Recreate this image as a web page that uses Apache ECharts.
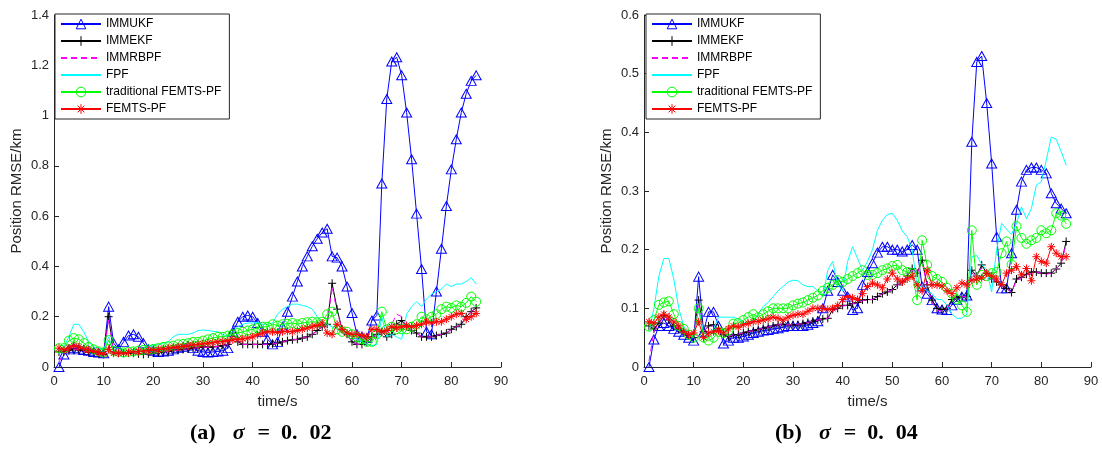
<!DOCTYPE html>
<html><head><meta charset="utf-8">
<script src="https://cdn.jsdelivr.net/npm/echarts@6/dist/echarts.min.js"></script>
<style>html,body{margin:0;padding:0;background:#fff}#c{width:1102px;height:450px}</style>
</head><body><div id="c"></div>
<script>
const seriesNames = ['IMMUKF','IMMEKF','IMMRBPF','FPF','traditional FEMTS-PF','FEMTS-PF'];
const timeSteps = [1,2,3,4,5,6,7,8,9,10,11,12,13,14,15,16,17,18,19,20,21,22,23,24,25,26,27,28,29,30,31,32,33,34,35,36,37,38,39,40,41,42,43,44,45,46,47,48,49,50,51,52,53,54,55,56,57,58,59,60,61,62,63,64,65,66,67,68,69,70,71,72,73,74,75,76,77,78,79,80,81,82,83,84,85];
const xTicks = {min:0, max:90, interval:10};
const yTicksA = {min:0, max:1.4, interval:0.2};
const yTicksB = {min:0, max:0.6, interval:0.1};
const captionA = ['(a)', 'σ', '=', '0.', '02'];
const captionB = ['(b)', 'σ', '=', '0.', '04'];

// ---- sigma = 0.02 ----
const ukfA = [0,0.05,0.07,0.075,0.07,0.068,0.065,0.06,0.058,0.055,0.24,0.095,0.07,0.1,0.125,0.13,0.12,0.095,0.07,0.065,0.06,0.062,0.065,0.07,0.075,0.08,0.085,0.075,0.065,0.06,0.058,0.06,0.062,0.065,0.075,0.14,0.18,0.2,0.205,0.2,0.175,0.14,0.11,0.09,0.1,0.16,0.22,0.28,0.34,0.4,0.44,0.48,0.51,0.535,0.55,0.44,0.435,0.4,0.32,0.215,0.13,0.12,0.115,0.185,0.205,0.73,1.066,1.215,1.232,1.16,1.012,0.826,0.61,0.39,0.14,0.13,0.3,0.47,0.64,0.786,0.906,1.012,1.087,1.138,1.16];
const ekfA = [0.06,0.06,0.065,0.07,0.068,0.065,0.06,0.058,0.055,0.05,0.2,0.06,0.055,0.055,0.055,0.055,0.052,0.05,0.052,0.055,0.058,0.06,0.062,0.065,0.068,0.07,0.072,0.075,0.078,0.08,0.078,0.08,0.082,0.085,0.09,0.135,0.1,0.09,0.09,0.09,0.09,0.09,0.09,0.092,0.095,0.1,0.105,0.108,0.11,0.115,0.12,0.13,0.145,0.16,0.17,0.333,0.23,0.15,0.13,0.1,0.09,0.09,0.1,0.12,0.13,0.14,0.12,0.13,0.17,0.185,0.16,0.145,0.135,0.12,0.12,0.12,0.125,0.13,0.135,0.15,0.16,0.17,0.2,0.22,0.235];
const rbpfA = [0.02,0.055,0.065,0.07,0.068,0.064,0.06,0.057,0.054,0.05,0.19,0.06,0.055,0.056,0.055,0.054,0.052,0.05,0.053,0.055,0.058,0.06,0.062,0.064,0.067,0.07,0.072,0.074,0.077,0.079,0.078,0.08,0.082,0.085,0.09,0.13,0.1,0.09,0.09,0.09,0.09,0.09,0.09,0.092,0.095,0.1,0.105,0.108,0.11,0.115,0.12,0.13,0.145,0.16,0.17,0.32,0.22,0.15,0.13,0.1,0.09,0.09,0.1,0.12,0.13,0.14,0.13,0.17,0.21,0.2,0.16,0.145,0.135,0.12,0.12,0.12,0.125,0.13,0.135,0.15,0.16,0.17,0.2,0.22,0.235];
const fpfA = [0.06,0.08,0.12,0.17,0.17,0.14,0.1,0.08,0.075,0.07,0.12,0.06,0.06,0.065,0.065,0.07,0.07,0.075,0.08,0.085,0.09,0.095,0.1,0.12,0.13,0.13,0.13,0.135,0.145,0.147,0.145,0.142,0.14,0.13,0.12,0.14,0.16,0.17,0.175,0.175,0.178,0.17,0.17,0.175,0.21,0.23,0.24,0.25,0.25,0.245,0.24,0.23,0.2,0.18,0.17,0.16,0.15,0.14,0.13,0.12,0.11,0.1,0.09,0.085,0.09,0.2,0.12,0.13,0.12,0.11,0.21,0.24,0.26,0.24,0.27,0.29,0.3,0.31,0.33,0.32,0.33,0.33,0.34,0.355,0.33];
const tradA = [0.075,0.075,0.105,0.115,0.11,0.095,0.08,0.07,0.062,0.058,0.107,0.065,0.06,0.058,0.06,0.062,0.065,0.068,0.07,0.072,0.075,0.08,0.082,0.085,0.09,0.092,0.095,0.1,0.1,0.105,0.11,0.115,0.12,0.12,0.125,0.13,0.135,0.14,0.145,0.15,0.155,0.16,0.16,0.17,0.165,0.17,0.172,0.175,0.17,0.175,0.178,0.18,0.178,0.18,0.21,0.22,0.15,0.14,0.14,0.13,0.12,0.11,0.1,0.1,0.13,0.22,0.15,0.16,0.15,0.15,0.15,0.16,0.17,0.2,0.19,0.2,0.21,0.23,0.24,0.235,0.245,0.24,0.255,0.28,0.26];
const femA = [0.075,0.068,0.075,0.085,0.08,0.072,0.068,0.062,0.058,0.052,0.07,0.055,0.055,0.055,0.058,0.06,0.062,0.063,0.066,0.068,0.07,0.072,0.075,0.078,0.08,0.082,0.085,0.088,0.09,0.092,0.095,0.097,0.1,0.102,0.105,0.108,0.11,0.112,0.115,0.12,0.128,0.135,0.14,0.14,0.138,0.14,0.142,0.14,0.145,0.15,0.155,0.16,0.165,0.175,0.135,0.13,0.17,0.15,0.135,0.13,0.13,0.125,0.12,0.15,0.15,0.14,0.145,0.16,0.155,0.16,0.165,0.16,0.165,0.17,0.18,0.175,0.18,0.18,0.19,0.2,0.21,0.213,0.19,0.2,0.213];

// ---- sigma = 0.04 ----
const ukfB = [0,0.047,0.07,0.075,0.07,0.065,0.06,0.055,0.05,0.045,0.154,0.06,0.094,0.094,0.07,0.04,0.045,0.05,0.05,0.052,0.055,0.058,0.06,0.062,0.063,0.065,0.066,0.068,0.07,0.07,0.07,0.07,0.072,0.075,0.078,0.1,0.13,0.157,0.145,0.13,0.12,0.097,0.1,0.14,0.162,0.177,0.195,0.205,0.205,0.2,0.2,0.197,0.2,0.208,0.2,0.137,0.125,0.114,0.1,0.098,0.097,0.105,0.114,0.12,0.122,0.384,0.52,0.53,0.45,0.347,0.222,0.134,0.134,0.194,0.268,0.316,0.336,0.34,0.34,0.336,0.33,0.296,0.279,0.27,0.262];
const ekfB = [0.07,0.065,0.075,0.088,0.08,0.07,0.065,0.06,0.055,0.05,0.114,0.06,0.07,0.072,0.065,0.055,0.052,0.055,0.055,0.058,0.06,0.062,0.064,0.066,0.068,0.07,0.072,0.073,0.072,0.072,0.072,0.074,0.076,0.078,0.08,0.082,0.083,0.098,0.1,0.105,0.105,0.108,0.11,0.114,0.115,0.115,0.12,0.125,0.128,0.132,0.14,0.145,0.155,0.168,0.16,0.182,0.14,0.114,0.1,0.098,0.1,0.115,0.118,0.12,0.12,0.165,0.155,0.174,0.16,0.15,0.145,0.14,0.134,0.127,0.15,0.153,0.158,0.162,0.162,0.16,0.16,0.16,0.167,0.177,0.214];
const rbpfB = [0.01,0.06,0.075,0.085,0.08,0.07,0.065,0.06,0.055,0.05,0.11,0.06,0.07,0.07,0.065,0.055,0.052,0.055,0.056,0.058,0.06,0.062,0.064,0.066,0.068,0.07,0.072,0.072,0.072,0.072,0.073,0.074,0.076,0.078,0.08,0.082,0.083,0.095,0.1,0.104,0.105,0.108,0.11,0.113,0.115,0.115,0.12,0.125,0.128,0.132,0.14,0.145,0.155,0.165,0.16,0.178,0.14,0.11,0.097,0.095,0.1,0.113,0.118,0.12,0.12,0.16,0.155,0.17,0.16,0.15,0.145,0.14,0.134,0.127,0.148,0.152,0.157,0.16,0.162,0.16,0.158,0.16,0.167,0.177,0.21];
const fpfB = [0.06,0.1,0.155,0.185,0.185,0.15,0.1,0.07,0.055,0.05,0.1,0.06,0.05,0.065,0.085,0.085,0.085,0.085,0.082,0.075,0.075,0.08,0.09,0.103,0.11,0.12,0.13,0.137,0.145,0.148,0.147,0.14,0.137,0.137,0.13,0.12,0.165,0.18,0.14,0.13,0.18,0.205,0.185,0.165,0.18,0.2,0.233,0.25,0.26,0.262,0.25,0.232,0.222,0.2,0.137,0.137,0.13,0.125,0.115,0.115,0.105,0.09,0.083,0.083,0.09,0.188,0.19,0.175,0.165,0.128,0.2,0.245,0.235,0.226,0.245,0.273,0.253,0.27,0.31,0.316,0.353,0.392,0.388,0.367,0.344];
const tradB = [0.069,0.08,0.106,0.11,0.112,0.09,0.07,0.065,0.055,0.05,0.1,0.05,0.045,0.05,0.06,0.058,0.062,0.074,0.075,0.08,0.085,0.09,0.085,0.09,0.095,0.1,0.1,0.1,0.1,0.105,0.108,0.11,0.114,0.118,0.122,0.13,0.135,0.14,0.148,0.145,0.15,0.155,0.16,0.165,0.157,0.157,0.16,0.165,0.168,0.172,0.174,0.165,0.162,0.16,0.114,0.216,0.174,0.155,0.15,0.145,0.135,0.125,0.115,0.105,0.094,0.233,0.14,0.157,0.155,0.16,0.162,0.194,0.214,0.175,0.24,0.22,0.21,0.216,0.22,0.233,0.228,0.233,0.262,0.258,0.244];
const femB = [0.077,0.075,0.085,0.09,0.085,0.077,0.07,0.06,0.055,0.058,0.077,0.05,0.058,0.06,0.062,0.058,0.065,0.07,0.068,0.072,0.074,0.077,0.078,0.08,0.082,0.085,0.083,0.08,0.085,0.088,0.09,0.09,0.095,0.1,0.1,0.1,0.098,0.1,0.105,0.115,0.12,0.118,0.115,0.125,0.137,0.143,0.14,0.135,0.15,0.16,0.15,0.145,0.15,0.155,0.14,0.13,0.165,0.14,0.14,0.138,0.13,0.125,0.135,0.143,0.14,0.148,0.15,0.152,0.16,0.155,0.15,0.14,0.16,0.165,0.171,0.157,0.168,0.147,0.188,0.18,0.177,0.205,0.194,0.188,0.188];

const valuesA = [ukfA, ekfA, rbpfA, fpfA, tradA, femA];
const valuesB = [ukfB, ekfB, rbpfB, fpfB, tradB, femB];

const TXT = '#262626';
const FONT = '"Liberation Sans", Arial, sans-serif';
const SERIF = '"Liberation Serif", "DejaVu Serif", serif';
const plusPath = 'path://M0,5L10,5M5,0L5,10';
const starPath = 'path://M0,5L10,5M5,0L5,10M1.5,1.5L8.5,8.5M1.5,8.5L8.5,1.5';
const styles = [
  {c:'#0000ff', sym:'triangle', size:[10,9]},
  {c:'#000000', sym:plusPath, size:8},
  {c:'#ff00ff', sym:'none', dash:[6,4]},
  {c:'#00ffff', sym:'none'},
  {c:'#00ff00', sym:'circle', size:9},
  {c:'#ff0000', sym:starPath, size:8}
];

function mkSeries(vals, gi) {
  return vals.map((arr, i) => {
    const s = styles[i];
    return {
      name: seriesNames[i], type: 'line', xAxisIndex: gi, yAxisIndex: gi,
      data: arr.map((v, k) => [timeSteps[k], v]),
      symbol: s.sym, symbolSize: s.size || 0, showSymbol: s.sym !== 'none',
      lineStyle: {color: s.c, width: 1, type: s.dash ? s.dash : 'solid'},
      itemStyle: {color: 'rgba(0,0,0,0)', borderColor: s.c, borderWidth: 1},
      emphasis: {disabled: true}, silent: true, z: 2 + i
    };
  });
}
function mkX(gi) {
  return {type:'value', gridIndex: gi, min:xTicks.min, max:xTicks.max, interval:xTicks.interval,
    name:'time/s', nameLocation:'middle', nameGap:27,
    nameTextStyle:{color:TXT, fontSize:15, fontFamily:FONT},
    axisLine:{lineStyle:{color:TXT, width:1}},
    axisTick:{inside:true, length:5, lineStyle:{color:TXT}},
    axisLabel:{color:TXT, fontSize:13, fontFamily:FONT, margin:8},
    splitLine:{show:false}};
}
function mkY(gi, t) {
  return {type:'value', gridIndex: gi, min:t.min, max:t.max, interval:t.interval,
    name:'Position RMSE/km', nameLocation:'middle', nameGap:30, nameRotate:90,
    nameTextStyle:{color:TXT, fontSize:15, fontFamily:FONT},
    axisLine:{show:true, lineStyle:{color:TXT, width:1}},
    axisTick:{show:true, inside:true, length:5, lineStyle:{color:TXT}},
    axisLabel:{color:TXT, fontSize:13, fontFamily:FONT, margin:5},
    splitLine:{show:false}};
}
function mkLegend(left) {
  return {data: seriesNames.map((n, i) => styles[i].sym === 'none'
              ? {name: n, itemStyle: {opacity: 0}}
              : {name: n, itemStyle: {color: 'rgba(0,0,0,0)', borderColor: styles[i].c, borderWidth: 1}}),
    orient:'vertical', left:left, top:14,
    itemWidth:40, itemHeight:12, itemGap:5, padding:[4,8,4,5],
    borderColor:TXT, borderWidth:1, backgroundColor:'#fff', borderRadius:0,
    selectedMode:false,
    textStyle:{color:'#000', fontSize:12, fontFamily:FONT}};
}
function mkCaption(p, x0) {
  const base = {fontFamily:SERIF, fontWeight:'bold', fontSize:22, fill:'#000'};
  return {type:'text', x: x0, y: 433, z:10,
    style:{text:'{a|' + p[0] + '}{s|' + p[1] + '}{e|' + p[2] + '}{n|' + p[3] + '}{m|' + p[4] + '}',
      verticalAlign:'middle', align:'left',
      rich:{a: Object.assign({}, base),
            s: Object.assign({}, base, {fontStyle:'italic', padding:[0,0,0,17]}),
            e: Object.assign({}, base, {padding:[0,0,0,13]}),
            n: Object.assign({}, base, {padding:[0,0,0,11]}),
            m: Object.assign({}, base, {padding:[0,0,0,12]})}}};
}

const chart = echarts.init(document.getElementById('c'), null, {renderer:'canvas'});
chart.setOption({
  animation:false, backgroundColor:'#fff',
  grid:[{left:54, right:601, top:15, bottom:83}, {left:644, right:11, top:15, bottom:83}],
  xAxis:[mkX(0), mkX(1)],
  yAxis:[mkY(0, yTicksA), mkY(1, yTicksB)],
  legend:[mkLegend(55), mkLegend(646)],
  series: mkSeries(valuesA, 0).concat(mkSeries(valuesB, 1)),
  graphic:[mkCaption(captionA, 190), mkCaption(captionB, 775)]
});
</script></body></html>
